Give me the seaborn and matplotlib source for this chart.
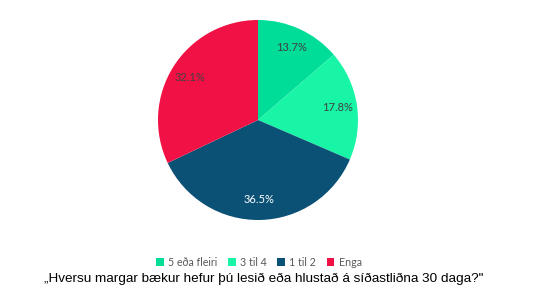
import matplotlib
matplotlib.use("Agg")
import matplotlib.pyplot as plt
import seaborn as sns
from matplotlib.patches import Patch

sns.set_theme(style="white")
plt.rcParams['font.family'] = ['Lato', 'DejaVu Sans']

categories = ["5 eða fleiri", "3 til 4", "1 til 2", "Enga"]
values = [13.7, 17.8, 36.5, 32.1]
colors = ["#00DD99", "#19F5A6", "#0B5075", "#F21144"]
label_colors = ["#404040", "#404040", "#FFFFFF", "#404040"]
title = "„Hversu margar bækur hefur þú lesið eða hlustað á síðastliðna 30 daga?\""

fig = plt.figure(figsize=(5.44, 3.0), dpi=100)
fig.patch.set_facecolor("white")
ax = fig.add_axes([158/544, 80/300, 200/544, 200/300])
wedges, texts, autotexts = ax.pie(values, colors=colors, startangle=90, counterclock=False,
                                  autopct="%.1f%%", pctdistance=0.8,
                                  wedgeprops=dict(linewidth=0),
                                  textprops=dict(fontsize=8))
for t, c in zip(autotexts, label_colors):
    t.set_color(c)
ax.set_xlim(-1, 1)
ax.set_ylim(-1, 1)
ax.set_aspect("equal")

handles = [Patch(facecolor=c, edgecolor="none") for c in colors]
fig.legend(handles, categories, loc="center", bbox_to_anchor=(259/544, 1 - 262/300),
           ncol=4, frameon=False, fontsize=7.7, handlelength=0.7, handleheight=0.7,
           handletextpad=0.4, columnspacing=1.0, labelcolor="#595959")
fig.text(264/544, 1 - 279/300, title, ha="center", va="center", fontsize=9.7,
         family=["Liberation Sans", "DejaVu Sans"], color="#000000")

fig.savefig("out.png", dpi=100, facecolor="white")
